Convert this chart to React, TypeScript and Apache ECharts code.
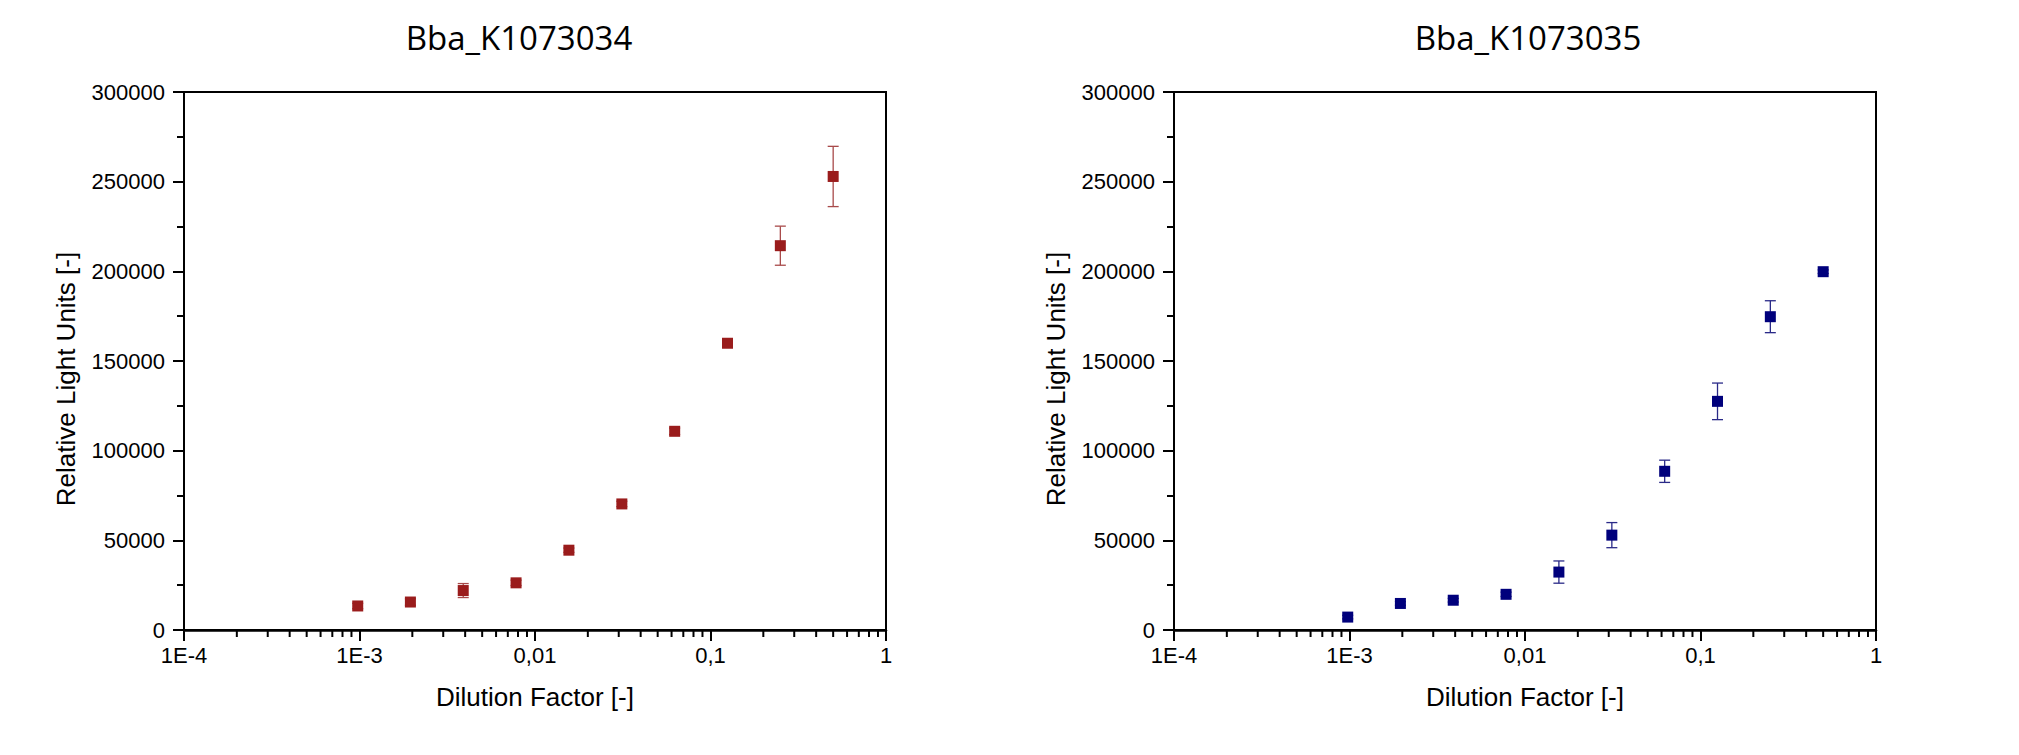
import React, { useEffect, useRef } from "react";
import * as echarts from "echarts";

// ---- data ----
const titles = ["Bba_K1073034", "Bba_K1073035"];
const dilution = [0.000977, 0.00195, 0.0039, 0.0078, 0.0156, 0.03125, 0.0625, 0.125, 0.25, 0.5];
const rlu034 = [13400, 15600, 22000, 26300, 44500, 70300, 110800, 159900, 214300, 252900];
const err034 = [1500, 1800, 3900, 1500, 1200, 1500, 1800, 2200, 10900, 16800];
const rlu035 = [7200, 14800, 16600, 19900, 32300, 52900, 88500, 127500, 174700, 199800];
const err035 = [1000, 1000, 1000, 1200, 6200, 7000, 6200, 10200, 8900, 1000];
const xTickLabels = ["1E-4", "1E-3", "0,01", "0,1", "1"];
const xMinExp = -4;
const yMax = 300000;
const yInterval = 50000;

const colors = ["#9a1c1c", "#00007c"];
const errColors = ["#a84a4a", "#2a2a88"];

const FONT = "'Liberation Sans', Arial, sans-serif";

// minor tick positions (2..9 within each decade) for the log x-axis
const minorXTicks: number[] = [];
for (let e = xMinExp; e < 0; e++) {
  for (let m = 2; m <= 9; m++) minorXTicks.push(m * Math.pow(10, e));
}

export default function App() {
  const ref = useRef<HTMLDivElement>(null);
  useEffect(() => {
    if (!ref.current) return;
    const chart = echarts.init(ref.current, null, { renderer: "svg" });
    const grids = [
      { left: 184, top: 92, width: 702, height: 538 },
      { left: 1174, top: 92, width: 702, height: 538 },
    ];
    const series: any[] = [];
    const values = [rlu034, rlu035];
    const errs = [err034, err035];
    const xAxes: any[] = [];
    const yAxes: any[] = [];
    grids.forEach((g, i) => {
      xAxes.push({
        type: "log",
        gridIndex: i,
        logBase: 10,
        min: Math.pow(10, xMinExp),
        max: 1,
        splitLine: { show: false },
        axisLine: { show: true, onZero: false, lineStyle: { color: "#000", width: 2.5 } },
        axisTick: { show: true, inside: false, length: 11, lineStyle: { color: "#000", width: 2 } },
        minorTick: { show: false },
        axisLabel: {
          color: "#000",
          fontFamily: FONT,
          fontSize: 22,
          margin: 14,
          formatter: (v: number) => {
            const idx = Math.round(Math.log10(v)) - xMinExp;
            return xTickLabels[idx] ?? "";
          },
        },
        name: "Dilution Factor [-]",
        nameLocation: "middle",
        nameGap: 54,
        nameTextStyle: { color: "#000", fontFamily: FONT, fontSize: 26 },
      });
      yAxes.push({
        type: "value",
        gridIndex: i,
        min: 0,
        max: yMax,
        interval: yInterval,
        splitLine: { show: false },
        axisLine: { show: true, onZero: false, lineStyle: { color: "#000", width: 2 } },
        axisTick: { show: true, inside: false, length: 11, lineStyle: { color: "#000", width: 2 } },
        minorTick: { show: true, splitNumber: 2, length: 7, lineStyle: { color: "#000", width: 2 } },
        axisLabel: {
          color: "#000",
          fontFamily: FONT,
          fontSize: 22,
          margin: 19,
          formatter: (v: number) => String(v),
        },
        name: "Relative Light Units [-]",
        nameLocation: "middle",
        nameGap: 105,
        nameTextStyle: { color: "#000", fontFamily: FONT, fontSize: 26, padding: [0, 36, 0, 0] },
      });

      // error bars
      series.push({
        type: "custom",
        xAxisIndex: i,
        yAxisIndex: i,
        z: 2,
        data: dilution.map((d, k) => [d, values[i][k] - errs[i][k], values[i][k] + errs[i][k]]),
        encode: { x: 0, y: [1, 2] },
        renderItem: (params: any, api: any) => {
          const x = api.value(0);
          const lo = api.coord([x, api.value(1)]);
          const hi = api.coord([x, api.value(2)]);
          const hw = 5.5;
          const style = { stroke: errColors[i], lineWidth: 1.3, opacity: 1 };
          return {
            type: "group",
            children: [
              { type: "line", shape: { x1: lo[0], y1: lo[1], x2: hi[0], y2: hi[1] }, style },
              { type: "line", shape: { x1: hi[0] - hw, y1: hi[1], x2: hi[0] + hw, y2: hi[1] }, style },
              { type: "line", shape: { x1: lo[0] - hw, y1: lo[1], x2: lo[0] + hw, y2: lo[1] }, style },
            ],
          };
        },
      });
      // points
      series.push({
        type: "scatter",
        xAxisIndex: i,
        yAxisIndex: i,
        z: 3,
        symbol: "rect",
        symbolSize: 11,
        itemStyle: { color: colors[i], opacity: 1 },
        data: dilution.map((d, k) => [d, values[i][k]]),
      });
      // minor ticks on log axis
      series.push({
        type: "custom",
        xAxisIndex: i,
        yAxisIndex: i,
        clip: false,
        silent: true,
        z: 4,
        data: minorXTicks.map((v) => [v, 0]),
        encode: { x: 0, y: 1 },
        renderItem: (params: any, api: any) => {
          const p = api.coord([api.value(0), 0]);
          return {
            type: "line",
            shape: { x1: p[0], y1: p[1], x2: p[0], y2: p[1] + 7 },
            style: { stroke: "#000", lineWidth: 2 },
          };
        },
      });
    });

    const titleStyle = { fontFamily: "'Open Sans', sans-serif", fontSize: 33, fontWeight: "normal", color: "#000" };
    chart.setOption({
      animation: false,
      backgroundColor: "#fff",
      title: [
        { text: titles[0], left: 514, top: 16, textAlign: "center", textStyle: titleStyle },
        { text: titles[1], left: 1523, top: 16, textAlign: "center", textStyle: titleStyle },
      ],
      grid: grids.map((g) => ({ ...g, show: true, borderColor: "#000", borderWidth: 2, backgroundColor: "transparent" })),
      xAxis: xAxes,
      yAxis: yAxes,
      series,
    });
    return () => chart.dispose();
  }, []);
  return (
    <div
      ref={ref}
      style={{ position: "fixed", left: 0, top: 0, width: 2019, height: 755, background: "#fff" }}
    />
  );
}
